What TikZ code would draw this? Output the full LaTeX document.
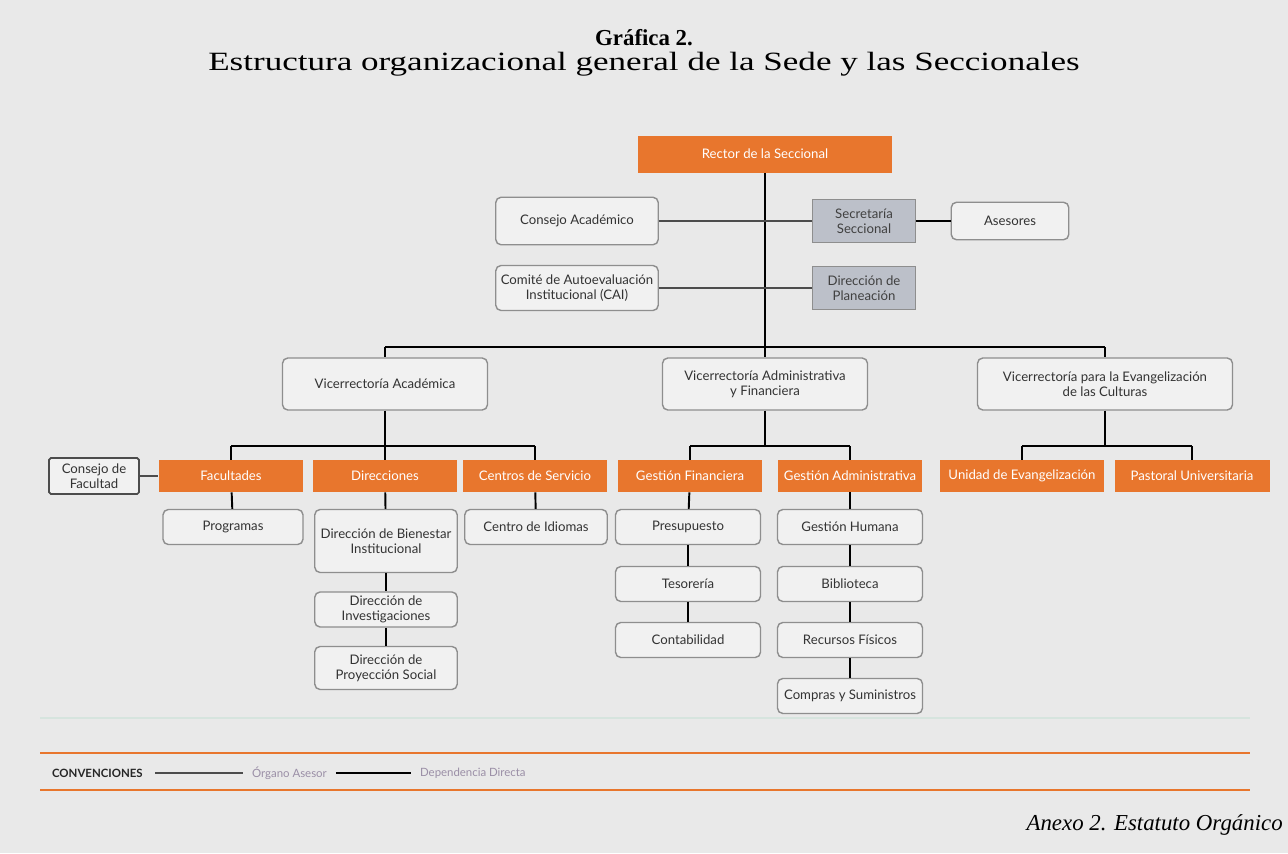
\documentclass[tikz,border=0pt]{standalone}
\usepackage{fontspec}
\setmainfont{Liberation Serif}
\newfontfamily\boxfont{Lato}
\newfontfamily\widefont[FakeStretch=1.33]{Liberation Serif}
\usetikzlibrary{shapes,arrows,positioning}
\definecolor{panel}{HTML}{E9E9E9}
\definecolor{orgorange}{HTML}{E8762D}
\definecolor{staffgray}{HTML}{BCC0C9}
\definecolor{boxline}{HTML}{8E8E8E}
\definecolor{boxfill}{HTML}{F1F1F1}
\definecolor{legtext}{HTML}{9A8EA6}
\definecolor{panelline}{HTML}{D6E4DE}
\tikzstyle{unit}    = [rectangle, draw=boxline, line width=0.8pt, fill=boxfill, text centered, align=center, rounded corners=3pt, inner sep=1pt, minimum width=2.9cm, minimum height=0.7cm, text=black!80, font=\boxfont\fontsize{7.5}{8.5}\selectfont]
\tikzstyle{head}    = [rectangle, fill=orgorange, text centered, align=center, inner sep=1pt, minimum width=2.9cm, minimum height=0.64cm, text=white, font=\boxfont\fontsize{7.5}{8.5}\selectfont]
\tikzstyle{staff}   = [rectangle, draw=boxline, line width=0.6pt, fill=staffgray, text centered, align=center, inner sep=1pt, minimum width=2.05cm, minimum height=0.85cm, text=black!75, font=\boxfont\fontsize{7.5}{8.5}\selectfont]
\tikzstyle{line}    = [draw, line width=1.1pt]
\tikzstyle{advice}  = [draw, line width=0.6pt, black!70]
\tikzstyle{legtxt}  = [anchor=west, inner sep=1pt, text=legtext, font=\boxfont\fontsize{6.5}{7}\selectfont]
\begin{document}
\begin{tikzpicture}[x=0.02cm, y=-0.02cm, node distance=1.12cm]

		% Frame %
		\fill [panel] (0,0) rectangle (1288,853);
		\useasboundingbox (0,0) rectangle (1288,853);
		\draw [panelline, line width=1pt] (40,718) -- (1250,718);
		\draw [orgorange, line width=1.3pt] (40,753) -- (1250,753);
		\draw [orgorange, line width=1.3pt] (40,790) -- (1250,790);

		% Title %
		\node [inner sep=0pt, font=\fontsize{13}{15}\selectfont] (tit) at (644,38) {\bfseries Gráfica 2.};
		\node [inner sep=0pt, font=\widefont\fontsize{15}{17}\selectfont] (sub) at (644,64) {Estructura organizacional general de la Sede y las Seccionales};

		% Node Setting %

		% 0 =======================================%
		\node [head, minimum width=5.1cm, minimum height=0.74cm] (rector) at (765,154) {Rector de la Seccional};
		% 1 =======================================%
		\node [unit, minimum width=3.25cm, minimum height=0.95cm] (cacad) at (577,221) {Consejo Académico};
		\node [staff] (secre) at (864,221) {Secretaría\\Seccional};
		\node [unit, minimum width=2.35cm, minimum height=0.75cm] (asesor) at (1010,221) {Asesores};
		\node [unit, minimum width=3.25cm, minimum height=0.9cm] (cai) at (577,288) {Comité de Autoevaluación\\Institucional (CAI)};
		\node [staff] (plan) at (864,288) {Dirección de\\Planeación};
		\coordinate (spine) at (765,347);
		\coordinate (busL) at (385,347);
		\coordinate (busR) at (1105,347);
		% 2 =======================================%
		\node [unit, minimum width=4.1cm, minimum height=1.04cm] (vacad) at (385,384) {Vicerrectoría Académica};
		\node [unit, minimum width=4.1cm, minimum height=1.04cm] (vadm) at (765,384) {Vicerrectoría Administrativa\\y Financiera};
		\node [unit, minimum width=5.1cm, minimum height=1.04cm] (vevan) at (1105,384) {Vicerrectoría para la Evangelización\\de las Culturas};
		% 3 =======================================%
		\coordinate (vacadL) at (231,446);
		\coordinate (vacadR) at (535,446);
		\node [head] (facu) at (231,476) {Facultades};
		\node [head] (direc) at (385,476) {Direcciones};
		\node [head] (centro) at (535,476) {Centros de Servicio};
		\node [unit, draw=black!70, line width=1pt, rounded corners=1pt, minimum width=1.8cm, minimum height=0.72cm] (cfacu) at (94,476) {Consejo de\\Facultad};
		%=========================================%
		\coordinate (vadmM) at (765,446);
		\coordinate (vadmL) at (690,446);
		\coordinate (vadmR) at (850,446);
		\node [head] (gfin) at (690,476) {Gestión Financiera};
		\node [head] (gadm) at (850,476) {Gestión Administrativa};
		%=========================================%
		\coordinate (vevanL) at (1022,446);
		\coordinate (vevanR) at (1192,446);
		\node [head, minimum width=3.3cm] (unid) at (1022,476) {Unidad de Evangelización};
		\node [head, minimum width=3.1cm] (pasto) at (1192,476) {Pastoral Universitaria};
		% 4 =======================================%
		\node [unit, minimum width=2.8cm] (progr) at (233,527) {Programas};
		\node [unit, minimum width=2.85cm, minimum height=1.26cm] (bienes) at (386,541) {Dirección de Bienestar\\Institucional};
		\node [unit, minimum width=2.85cm, below of = bienes, yshift=-0.25cm] (inves) {Dirección de\\Investigaciones};
		\node [unit, minimum width=2.85cm, minimum height=0.86cm, below of = inves, yshift=-0.05cm] (proyec) {Dirección de\\Proyección Social};
		\node [unit, minimum width=2.85cm] (idiom) at (536,527) {Centro de Idiomas};
		%=========================================%
		\node [unit] (presu) at (688,527) {Presupuesto};
		\node [unit, below of = presu, yshift=-0.02cm] (tesor) {Tesorería};
		\node [unit, below of = tesor] (conta) {Contabilidad};
		%=========================================%
		\node [unit] (ghum) at (850,527) {Gestión Humana};
		\node [unit, below of = ghum, yshift=-0.02cm] (bibli) {Biblioteca};
		\node [unit, below of = bibli] (recur) {Recursos Físicos};
		\node [unit, below of = recur] (compr) {Compras y Suministros};

		% Legend %
		\node [legtxt, text=black!85, font=\boxfont\bfseries\fontsize{6.5}{7}\selectfont] (conv) at (50,773) {CONVENCIONES};
		\node [legtxt] (organo) at (250,773) {Órgano Asesor};
		\node [legtxt] (depend) at (418,773) {Dependencia Directa};
		\node [anchor=east, inner sep=0pt, font=\itshape\fontsize{13}{15}\selectfont] (anexo) at (1283,825) {Anexo 2. Estatuto Orgánico};

		% Connection %

		\path [line] (rector)  -- (spine);
		\path [advice] (cacad)  -- (secre);
		\path [line] (secre)  -- (asesor);
		\path [advice] (cai)  -- (plan);
		\path [line] (busL)  -- (busR);
		\path [line] (busL)  -- (vacad);
		\path [line] (spine)  -- (vadm);
		\path [line] (busR)  -- (vevan);
		\path [line] (vacad)  -- (direc);
		\path [line] (vacadL)  -- (vacadR);
		\path [line] (vacadL)  -- (facu);
		\path [line] (vacadR)  -- (centro);
		\path [advice] (cfacu)  -- (facu);
		\path [line] (vadm)  -- (vadmM);
		\path [line] (vadmL)  -- (vadmR);
		\path [line] (vadmL)  -- (gfin);
		\path [line] (vadmR)  -- (gadm);
		\path [line] (vevan)  -- (vevanL -| vevan);
		\path [line] (vevanL)  -- (vevanR);
		\path [line] (vevanL)  -- (unid);
		\path [line] (vevanR)  -- (pasto);
		\path [line] (facu)  -- (progr);
		\path [line] (direc)  -- (bienes);
		\path [line] (bienes)  -- (inves);
		\path [line] (inves)  -- (proyec);
		\path [line] (centro)  -- (idiom);
		\path [line] (gfin)  -- (presu);
		\path [line] (presu)  -- (tesor);
		\path [line] (tesor)  -- (conta);
		\path [line] (gadm)  -- (ghum);
		\path [line] (ghum)  -- (bibli);
		\path [line] (bibli)  -- (recur);
		\path [line] (recur)  -- (compr);
		\path [advice, shorten <=6pt, shorten >=4pt] (conv)  -- (organo);
		\path [line, shorten <=4pt, shorten >=4pt] (organo)  -- (depend);
	\end{tikzpicture}
\end{document}
